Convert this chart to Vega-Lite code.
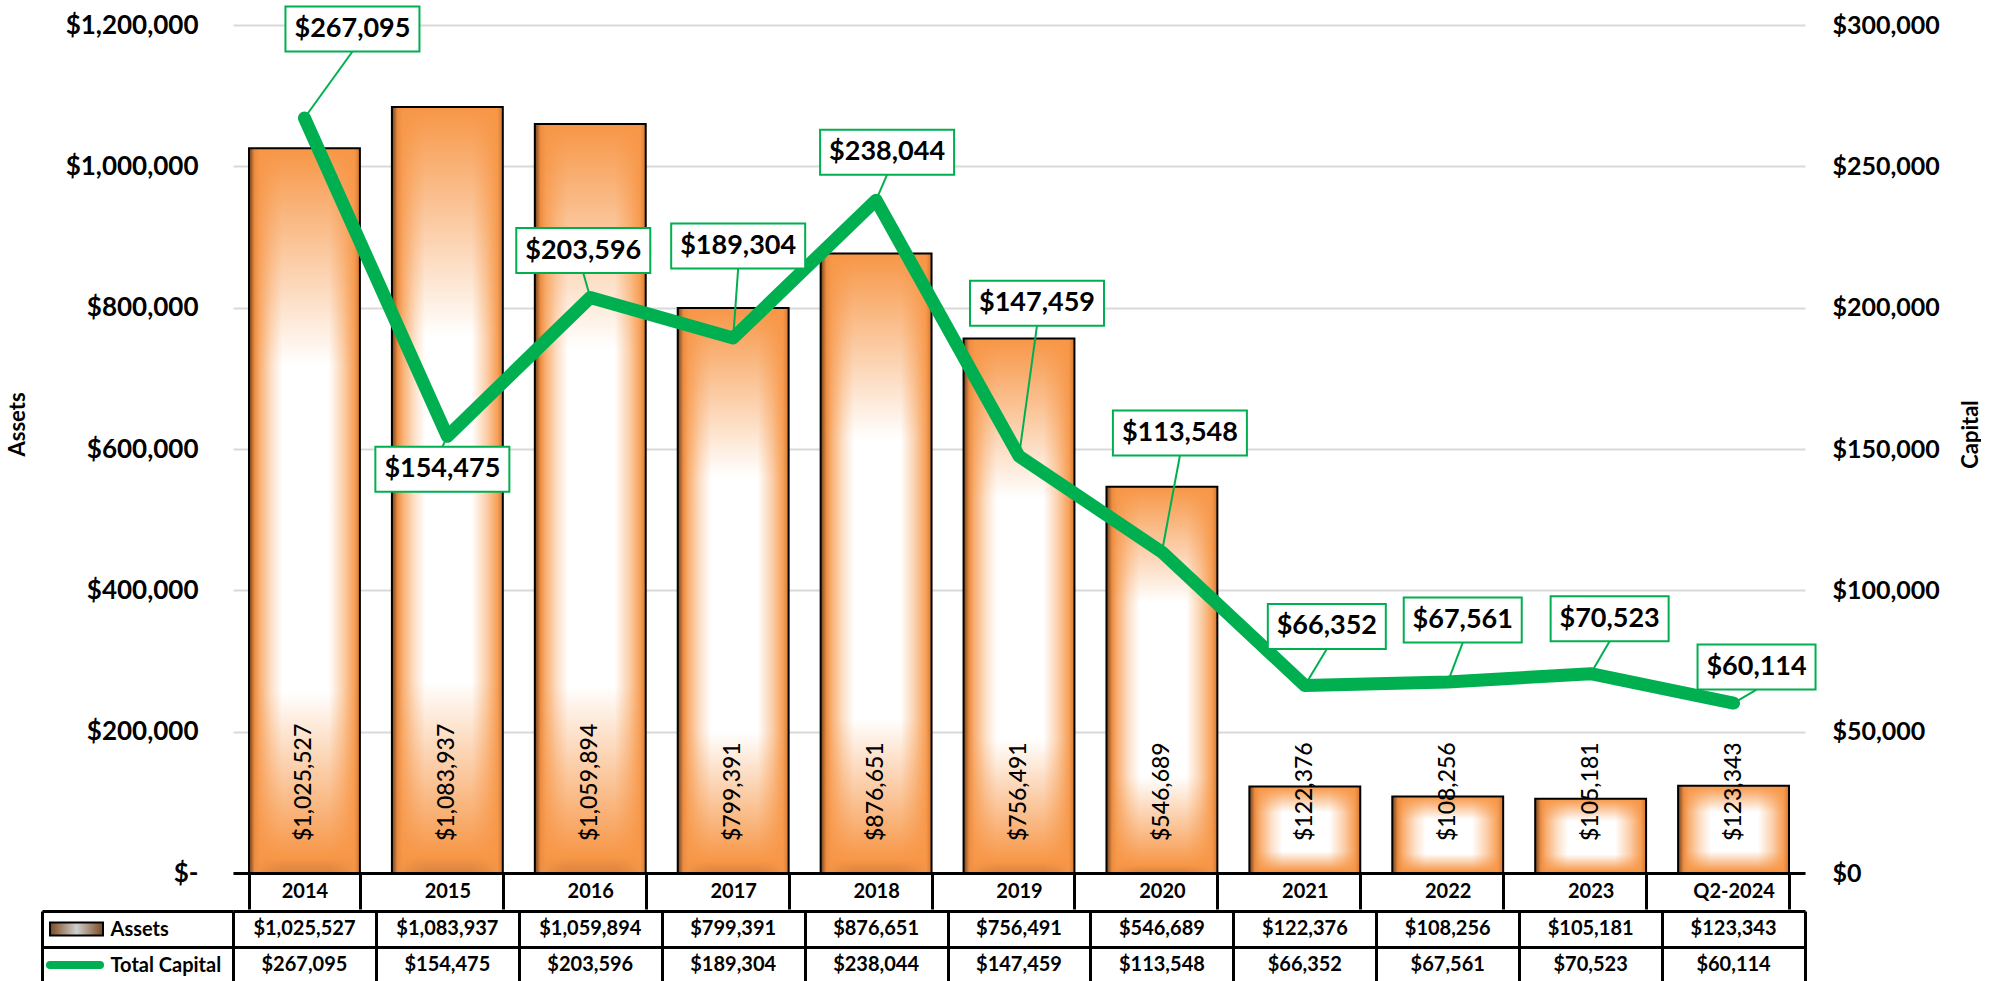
{
  "$schema": "https://vega.github.io/schema/vega-lite/v6.json",
  "background": "white",
  "padding": {"left": 6, "top": 2, "right": 0, "bottom": 0},
  "config": {"view": {"stroke": null}, "font": "Lato"},
  "params": [
    {"name": "yrs", "value": ["2014", "2015", "2016", "2017", "2018", "2019", "2020", "2021", "2022", "2023", "Q2-2024"]},
    {"name": "dxs", "value": [48, -5, -7, 5, 11, 18, 18, 22, 15, 19, 23]},
    {"name": "dys", "value": [-89, 33, -47, -92, -48, -153, -119, -59, -62, -55, -36]}
  ],
  "data": {
    "values": [
      {"Year": "2014", "Assets": 1025527, "Total Capital": 267095},
      {"Year": "2015", "Assets": 1083937, "Total Capital": 154475},
      {"Year": "2016", "Assets": 1059894, "Total Capital": 203596},
      {"Year": "2017", "Assets": 799391, "Total Capital": 189304},
      {"Year": "2018", "Assets": 876651, "Total Capital": 238044},
      {"Year": "2019", "Assets": 756491, "Total Capital": 147459},
      {"Year": "2020", "Assets": 546689, "Total Capital": 113548},
      {"Year": "2021", "Assets": 122376, "Total Capital": 66352},
      {"Year": "2022", "Assets": 108256, "Total Capital": 67561},
      {"Year": "2023", "Assets": 105181, "Total Capital": 70523},
      {"Year": "Q2-2024", "Assets": 123343, "Total Capital": 60114}
    ]
  },
  "spacing": -10,
  "vconcat": [
    {
      "width": 1572,
      "height": 848,
      "encoding": {
        "x": {
          "field": "Year", "type": "ordinal", "sort": null,
          "scale": {"paddingInner": 0.224, "paddingOuter": 0.112},
          "axis": {
            "title": null, "labelAngle": 0,
            "domain": true, "domainColor": "black", "domainWidth": 3,
            "ticks": true, "tickBand": "extent", "tickSize": 36, "tickColor": "black", "tickWidth": 3,
            "labelFont": "Lato", "labelFontWeight": "bold", "labelFontSize": 20, "labelColor": "black",
            "labelPadding": -18, "labelBaseline": "middle", "grid": false
          }
        }
      },
      "layer": [
        {
          "encoding": {
            "y": {
              "field": "Assets", "type": "quantitative",
              "scale": {"domain": [0, 1200000], "nice": false},
              "axis": {
                "orient": "left",
                "values": [0, 200000, 400000, 600000, 800000, 1000000, 1200000],
                "labelExpr": "datum.value === 0 ? '$-' : '$' + format(datum.value, ',')",
                "labelFont": "Lato", "labelFontWeight": "bold", "labelFontSize": 26, "labelColor": "black",
                "labelPadding": 35, "ticks": false, "domain": false,
                "grid": true, "gridColor": "#D9D9D9", "gridWidth": 2,
                "title": "Assets", "titleFont": "Lato", "titleFontWeight": "bold", "titleFontSize": 22, "titleColor": "black",
                "titleAngle": 270, "titleX": -216, "titleY": 399, "titleAlign": "center", "titleBaseline": "middle"
              }
            }
          },
          "layer": [
            {
              "mark": {
                "type": "bar", "stroke": null,
                "fill": {
                  "gradient": "linear", "x1": 0, "y1": 0, "x2": 0, "y2": 1,
                  "stops": [
                    {"offset": 0, "color": "#F79646"},
                    {"offset": 0.3, "color": "#FFFFFF"},
                    {"offset": 0.75, "color": "#FFFFFF"},
                    {"offset": 0.98, "color": "#F79646"},
                    {"offset": 1, "color": "#D9823F"}
                  ]
                }
              }
            },
            {
              "mark": {
                "type": "bar", "stroke": "black", "strokeWidth": 2,
                "fill": {
                  "gradient": "linear", "x1": 0, "y1": 0, "x2": 1, "y2": 0,
                  "stops": [
                    {"offset": 0, "color": "rgba(110,65,30,1)"},
                    {"offset": 0.05, "color": "rgba(235,140,65,1)"},
                    {"offset": 0.1, "color": "rgba(247,150,70,0.75)"},
                    {"offset": 0.2, "color": "rgba(247,150,70,0.3)"},
                    {"offset": 0.3, "color": "rgba(247,150,70,0)"},
                    {"offset": 0.72, "color": "rgba(247,150,70,0)"},
                    {"offset": 0.85, "color": "rgba(247,150,70,0.45)"},
                    {"offset": 0.95, "color": "rgba(247,150,70,0.9)"},
                    {"offset": 1, "color": "rgba(210,120,50,1)"}
                  ]
                }
              }
            },
            {
              "mark": {"type": "text", "angle": 270, "align": "left", "baseline": "middle", "dx": 32, "font": "Lato", "fontWeight": 500, "fontSize": 23, "color": "black"},
              "encoding": {
                "y": {"datum": 0, "type": "quantitative"},
                "text": {"field": "Assets", "type": "quantitative", "format": "$,.0f"}
              }
            }
          ]
        },
        {
          "encoding": {
            "y": {
              "field": "Total Capital", "type": "quantitative",
              "scale": {"domain": [0, 300000], "nice": false},
              "axis": {
                "orient": "right",
                "values": [0, 50000, 100000, 150000, 200000, 250000, 300000],
                "labelExpr": "'$' + format(datum.value, ',')",
                "labelFont": "Lato", "labelFontWeight": "bold", "labelFontSize": 25, "labelColor": "black",
                "labelAlign": "left", "labelPadding": 27, "ticks": false, "domain": false, "grid": false,
                "title": "Capital", "titleFont": "Lato", "titleFontWeight": "bold", "titleFontSize": 22, "titleColor": "black",
                "titleAngle": 270, "titleX": 165, "titleY": 409, "titleAlign": "center", "titleBaseline": "middle"
              }
            }
          },
          "layer": [
            {"mark": {"type": "line", "color": "#00B050", "strokeWidth": 13, "strokeCap": "round", "strokeJoin": "round"}},
            {
              "mark": {
                "type": "rule", "color": "#00B050", "strokeWidth": 2,
                "x2Offset": {"expr": "dxs[indexof(yrs, datum.Year)]"},
                "y2Offset": {"expr": "dys[indexof(yrs, datum.Year)] < 0 ? dys[indexof(yrs, datum.Year)] + 22.5 : dys[indexof(yrs, datum.Year)] - 22.5"}
              },
              "encoding": {
                "x2": {"field": "Year"},
                "y2": {"field": "Total Capital"}
              }
            },
            {
              "mark": {
                "type": "point", "filled": true, "fill": "white", "stroke": "#00B050", "strokeWidth": 2, "opacity": 1, "size": 4,
                "xOffset": {"expr": "dxs[indexof(yrs, datum.Year)]"},
                "yOffset": {"expr": "dys[indexof(yrs, datum.Year)]"}
              },
              "encoding": {
                "shape": {
                  "condition": {"test": "datum['Total Capital'] >= 100000", "value": "M-67,-22.5H67V22.5H-67Z"},
                  "value": "M-59,-22.5H59V22.5H-59Z"
                }
              }
            },
            {
              "mark": {
                "type": "text", "font": "Lato", "fontWeight": "bold", "fontSize": 27, "color": "black",
                "align": "center", "baseline": "middle",
                "dx": {"expr": "dxs[indexof(yrs, datum.Year)]"},
                "dy": {"expr": "dys[indexof(yrs, datum.Year)]"}
              },
              "encoding": {
                "text": {"field": "Total Capital", "type": "quantitative", "format": "$,.0f"}
              }
            }
          ]
        }
      ],
      "resolve": {"scale": {"y": "independent"}}
    },
    {
      "width": 1572,
      "height": 72,
      "transform": [{"fold": ["Assets", "Total Capital"], "as": ["row", "val"]}],
      "layer": [
        {
          "mark": {"type": "text", "font": "Lato", "fontWeight": "bold", "fontSize": 20, "color": "black"},
          "encoding": {
            "x": {
              "field": "Year", "type": "ordinal", "sort": null,
              "scale": {"paddingInner": 0, "paddingOuter": 0},
              "axis": {"title": null, "labels": false, "ticks": false, "domain": false, "grid": true, "gridColor": "black", "gridWidth": 3, "gridOpacity": 1, "tickBand": "extent"}
            },
            "y": {
              "field": "row", "type": "nominal", "sort": ["Assets", "Total Capital"],
              "scale": {"paddingInner": 0, "paddingOuter": 0},
              "axis": {
                "orient": "left", "title": null, "domain": false,
                "ticks": true, "tickSize": 191, "tickColor": "black", "tickWidth": 3, "tickBand": "extent",
                "grid": true, "gridColor": "black", "gridWidth": 3, "gridOpacity": 1,
                "labelAlign": "left", "labelPadding": -68, "labelBaseline": "middle",
                "labelFont": "Lato", "labelFontWeight": "bold", "labelFontSize": 20, "labelColor": "black"
              }
            },
            "text": {"field": "val", "type": "quantitative", "format": "$,.0f"}
          }
        },
        {
          "transform": [{"filter": "datum.row === 'Assets' && datum.Year === '2014'"}],
          "mark": {
            "type": "bar", "height": 13, "stroke": "black", "strokeWidth": 2,
            "fill": {
              "gradient": "linear", "x1": 0, "y1": 0, "x2": 1, "y2": 0,
              "stops": [
                {"offset": 0, "color": "#7B4A22"},
                {"offset": 0.5, "color": "#CFCFCF"},
                {"offset": 1, "color": "#7B4A22"}
              ]
            }
          },
          "encoding": {
            "x": {"datum": 0, "type": "quantitative", "scale": {"domain": [0, 1], "range": [-183, -130]}, "axis": null},
            "x2": {"datum": 1},
            "y": {
              "field": "row", "type": "nominal", "sort": ["Assets", "Total Capital"],
              "scale": {"paddingInner": 0, "paddingOuter": 0},
              "axis": {"orient": "left", "offset": 191, "title": null, "labels": false, "ticks": false, "grid": false, "domain": true, "domainColor": "black", "domainWidth": 3}
            }
          }
        },
        {
          "transform": [{"filter": "datum.row === 'Total Capital' && datum.Year === '2014'"}],
          "mark": {"type": "rule", "color": "#00B050", "strokeWidth": 8, "strokeCap": "round"},
          "encoding": {
            "x": {"datum": 0, "type": "quantitative", "scale": {"domain": [0, 1], "range": [-183, -133]}, "axis": null},
            "x2": {"datum": 1},
            "y": {
              "field": "row", "type": "nominal", "sort": ["Assets", "Total Capital"],
              "scale": {"paddingInner": 0, "paddingOuter": 0},
              "axis": null
            }
          }
        }
      ],
      "resolve": {"scale": {"x": "independent"}, "axis": {"y": "independent"}}
    }
  ]
}
